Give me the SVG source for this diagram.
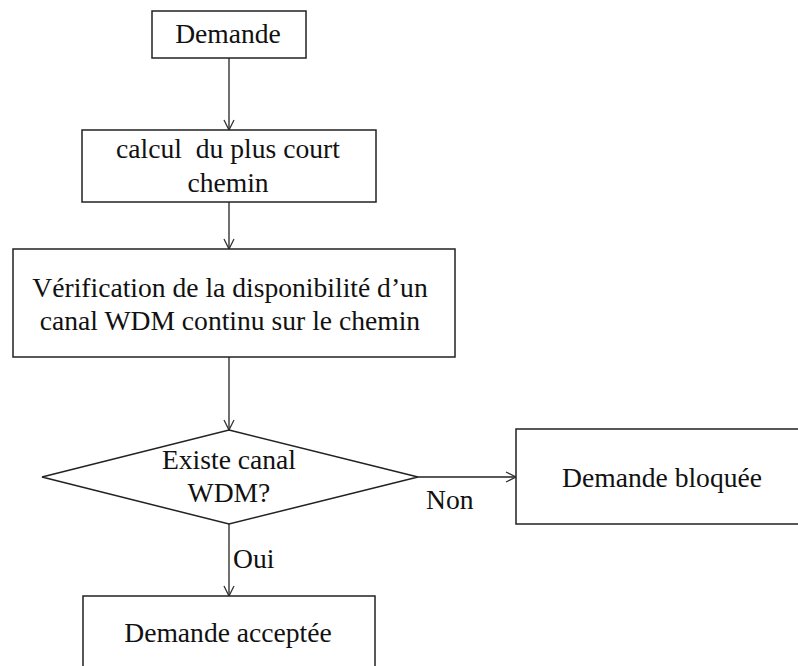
<svg xmlns="http://www.w3.org/2000/svg" width="798" height="666" viewBox="0 0 798 666">
<style>
.box{fill:#fff;stroke:#222;stroke-width:1.5}
.t{font-family:"Liberation Serif","Times New Roman",serif;font-size:27.6px;fill:#111;text-anchor:middle}
.tl{font-family:"Liberation Serif","Times New Roman",serif;font-size:27.6px;fill:#111}
.c{stroke:#222;stroke-width:1.3;fill:none;marker-end:url(#ah)}
</style>
<defs>
<marker id="ah" viewBox="0 0 12 12" refX="11" refY="6" markerWidth="12" markerHeight="12" markerUnits="userSpaceOnUse" orient="auto">
<path d="M1,1 L11,6 L1,11" fill="none" stroke="#333" stroke-width="1.3"/>
</marker>
</defs>
<rect width="798" height="666" fill="#fff"/>
<g id="connectors">
<line class="c" x1="229" y1="58" x2="229" y2="130"/>
<line class="c" x1="229" y1="202" x2="229" y2="249"/>
<line class="c" x1="229" y1="357" x2="229" y2="430"/>
<line class="c" x1="418" y1="477" x2="516" y2="477"/>
<line class="c" x1="229" y1="524" x2="229" y2="596"/>
<text class="tl" x="426" y="509">Non</text>
<text class="tl" x="233" y="568">Oui</text>
</g>
<g id="demande">
<rect class="box" x="152" y="11" width="154" height="47"/>
<text class="t" x="228" y="43">Demande</text>
</g>
<g id="calcul">
<rect class="box" x="82" y="130" width="294" height="72"/>
<text class="t" x="228" y="158" xml:space="preserve">calcul  du plus court</text>
<text class="t" x="228" y="192">chemin</text>
</g>
<g id="verification">
<rect class="box" x="13" y="249" width="442" height="108"/>
<text class="t" x="230" y="297">Vérification de la disponibilité d’un</text>
<text class="t" x="230" y="330">canal WDM continu sur le chemin</text>
</g>
<g id="decision">
<polygon class="box" points="229,430 418,477 229,524 42,477"/>
<text class="t" x="229" y="469">Existe canal</text>
<text class="t" x="229" y="502">WDM?</text>
</g>
<g id="bloquee">
<rect class="box" x="516" y="429" width="300" height="95"/>
<text class="t" x="662" y="487">Demande bloquée</text>
</g>
<g id="acceptee">
<rect class="box" x="83" y="596" width="292" height="90"/>
<text class="t" x="228" y="642">Demande acceptée</text>
</g>
</svg>
